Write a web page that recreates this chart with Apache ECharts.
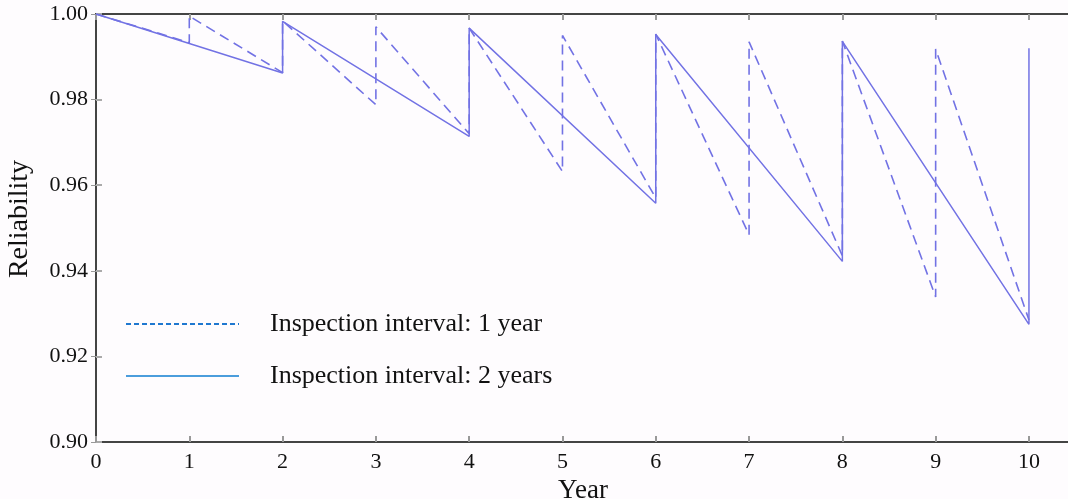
<!DOCTYPE html>
<html>
<head>
<meta charset="utf-8">
<script src="https://cdn.jsdelivr.net/npm/echarts@6/dist/echarts.min.js"></script>
<style>
  html, body { margin: 0; padding: 0; background: #fefcfe; }
  #chart { width: 1068px; height: 499px; }
</style>
</head>
<body>
<div id="chart"></div>
<script>
// inspection every year (dashed)
var years1 = [0, 1, 1, 2, 2, 3, 3, 4, 4, 5, 5, 6, 6, 7, 7, 8, 8, 9, 9, 10];
var rel1 = [1.0, 0.9933, 0.9995, 0.9863, 0.9984, 0.9788, 0.9970, 0.9720, 0.9967, 0.9632,
  0.9950, 0.9570, 0.9953, 0.9484, 0.9935, 0.9435, 0.9937, 0.9339, 0.9918, 0.9285];

// inspection every 2 years (solid)
var years2 = [0, 2, 2, 4, 4, 6, 6, 8, 8, 10, 10];
var rel2 = [1.0, 0.9862, 0.9983, 0.9714, 0.9967, 0.9558, 0.9952, 0.9422, 0.9936, 0.9275, 0.9920];

var xTicks = [0, 1, 2, 3, 4, 5, 6, 7, 8, 9, 10];
var seriesNames = ["Inspection interval: 1 year", "Inspection interval: 2 years"];

function pairs(xs, ys) {
  var out = [];
  for (var i = 0; i < xs.length; i++) out.push([xs[i], ys[i]]);
  return out;
}

var font = "'Liberation Serif', 'Times New Roman', serif";
var lineColor = "#7272e4";

var chart = echarts.init(document.getElementById("chart"));

var option = {
  backgroundColor: "#fefcfe",
  animation: false,
  textStyle: { fontFamily: font },
  grid: {
    left: 96,
    right: -2,
    top: 14,
    bottom: 57,
    containLabel: false,
    outerBoundsMode: "none",
  },
  legend: {
    orient: "vertical",
    left: 120,
    top: 306,
    itemWidth: 113,
    itemHeight: 14,
    itemGap: 26,
    itemStyle: { opacity: 0, borderWidth: 0 },
    textStyle: {
      fontFamily: font,
      fontSize: 26,
      color: "#111",
      padding: [0, 0, 0, 26],
    },
    data: [
      { name: seriesNames[0], lineStyle: { color: "#1f78d0", type: [5, 3], width: 2 } },
      { name: seriesNames[1], lineStyle: { color: "#4b9ddc", type: "solid", width: 2 } },
    ],
  },
  xAxis: [
    {
      type: "value",
      min: 0,
      max: 10.44,
      name: "Year",
      nameLocation: "middle",
      nameGap: 33,
      nameTextStyle: { fontFamily: font, fontSize: 27, color: "#111" },
      axisLine: { lineStyle: { color: "#444", width: 2 } },
      axisTick: { inside: true, length: 6, customValues: xTicks, lineStyle: { color: "#999", width: 2 } },
      axisLabel: {
        customValues: xTicks,
        margin: 9,
        fontFamily: font,
        fontSize: 22,
        color: "#111",
      },
      splitLine: { show: false },
    },
    {
      type: "value",
      position: "top",
      min: 0,
      max: 10.44,
      axisLine: { lineStyle: { color: "#444", width: 2 } },
      axisTick: { inside: true, length: 6, customValues: xTicks, lineStyle: { color: "#999", width: 2 } },
      axisLabel: { show: false },
      splitLine: { show: false },
    },
  ],
  yAxis: [
    {
      type: "value",
      min: 0.9,
      max: 1.0,
      interval: 0.02,
      name: "Reliability",
      nameLocation: "middle",
      nameGap: 62,
      nameTextStyle: { fontFamily: font, fontSize: 28, color: "#111", padding: [0, 0, 0, 18] },
      axisLine: { show: true, lineStyle: { color: "#222", width: 2 } },
      axisTick: { show: true, inside: true, length: 6, lineStyle: { color: "#aaa", width: 2 } },
      axisLabel: {
        margin: 8,
        fontFamily: font,
        fontSize: 22,
        color: "#111",
        formatter: function (v) {
          return v.toFixed(2);
        },
      },
      splitLine: { show: false },
    },
    {
      type: "value",
      position: "right",
      min: 0.9,
      max: 1.0,
      interval: 0.02,
      axisLine: { show: true, lineStyle: { color: "#444", width: 2 } },
      axisTick: { show: true, inside: true, length: 5, lineStyle: { color: "#999", width: 1 } },
      axisLabel: { show: false },
      splitLine: { show: false },
    },
  ],
  series: [
    {
      name: seriesNames[0],
      type: "line",
      data: pairs(years1, rel1),
      symbol: "none",
      lineStyle: { color: lineColor, width: 1.6, type: [10, 6] },
      itemStyle: { color: lineColor },
    },
    {
      name: seriesNames[1],
      type: "line",
      data: pairs(years2, rel2),
      symbol: "none",
      lineStyle: { color: lineColor, width: 1.5, type: "solid" },
      itemStyle: { color: lineColor },
    },
  ],
};

chart.setOption(option);
window.onresize = function () {
  chart.resize();
};
</script>
</body>
</html>
